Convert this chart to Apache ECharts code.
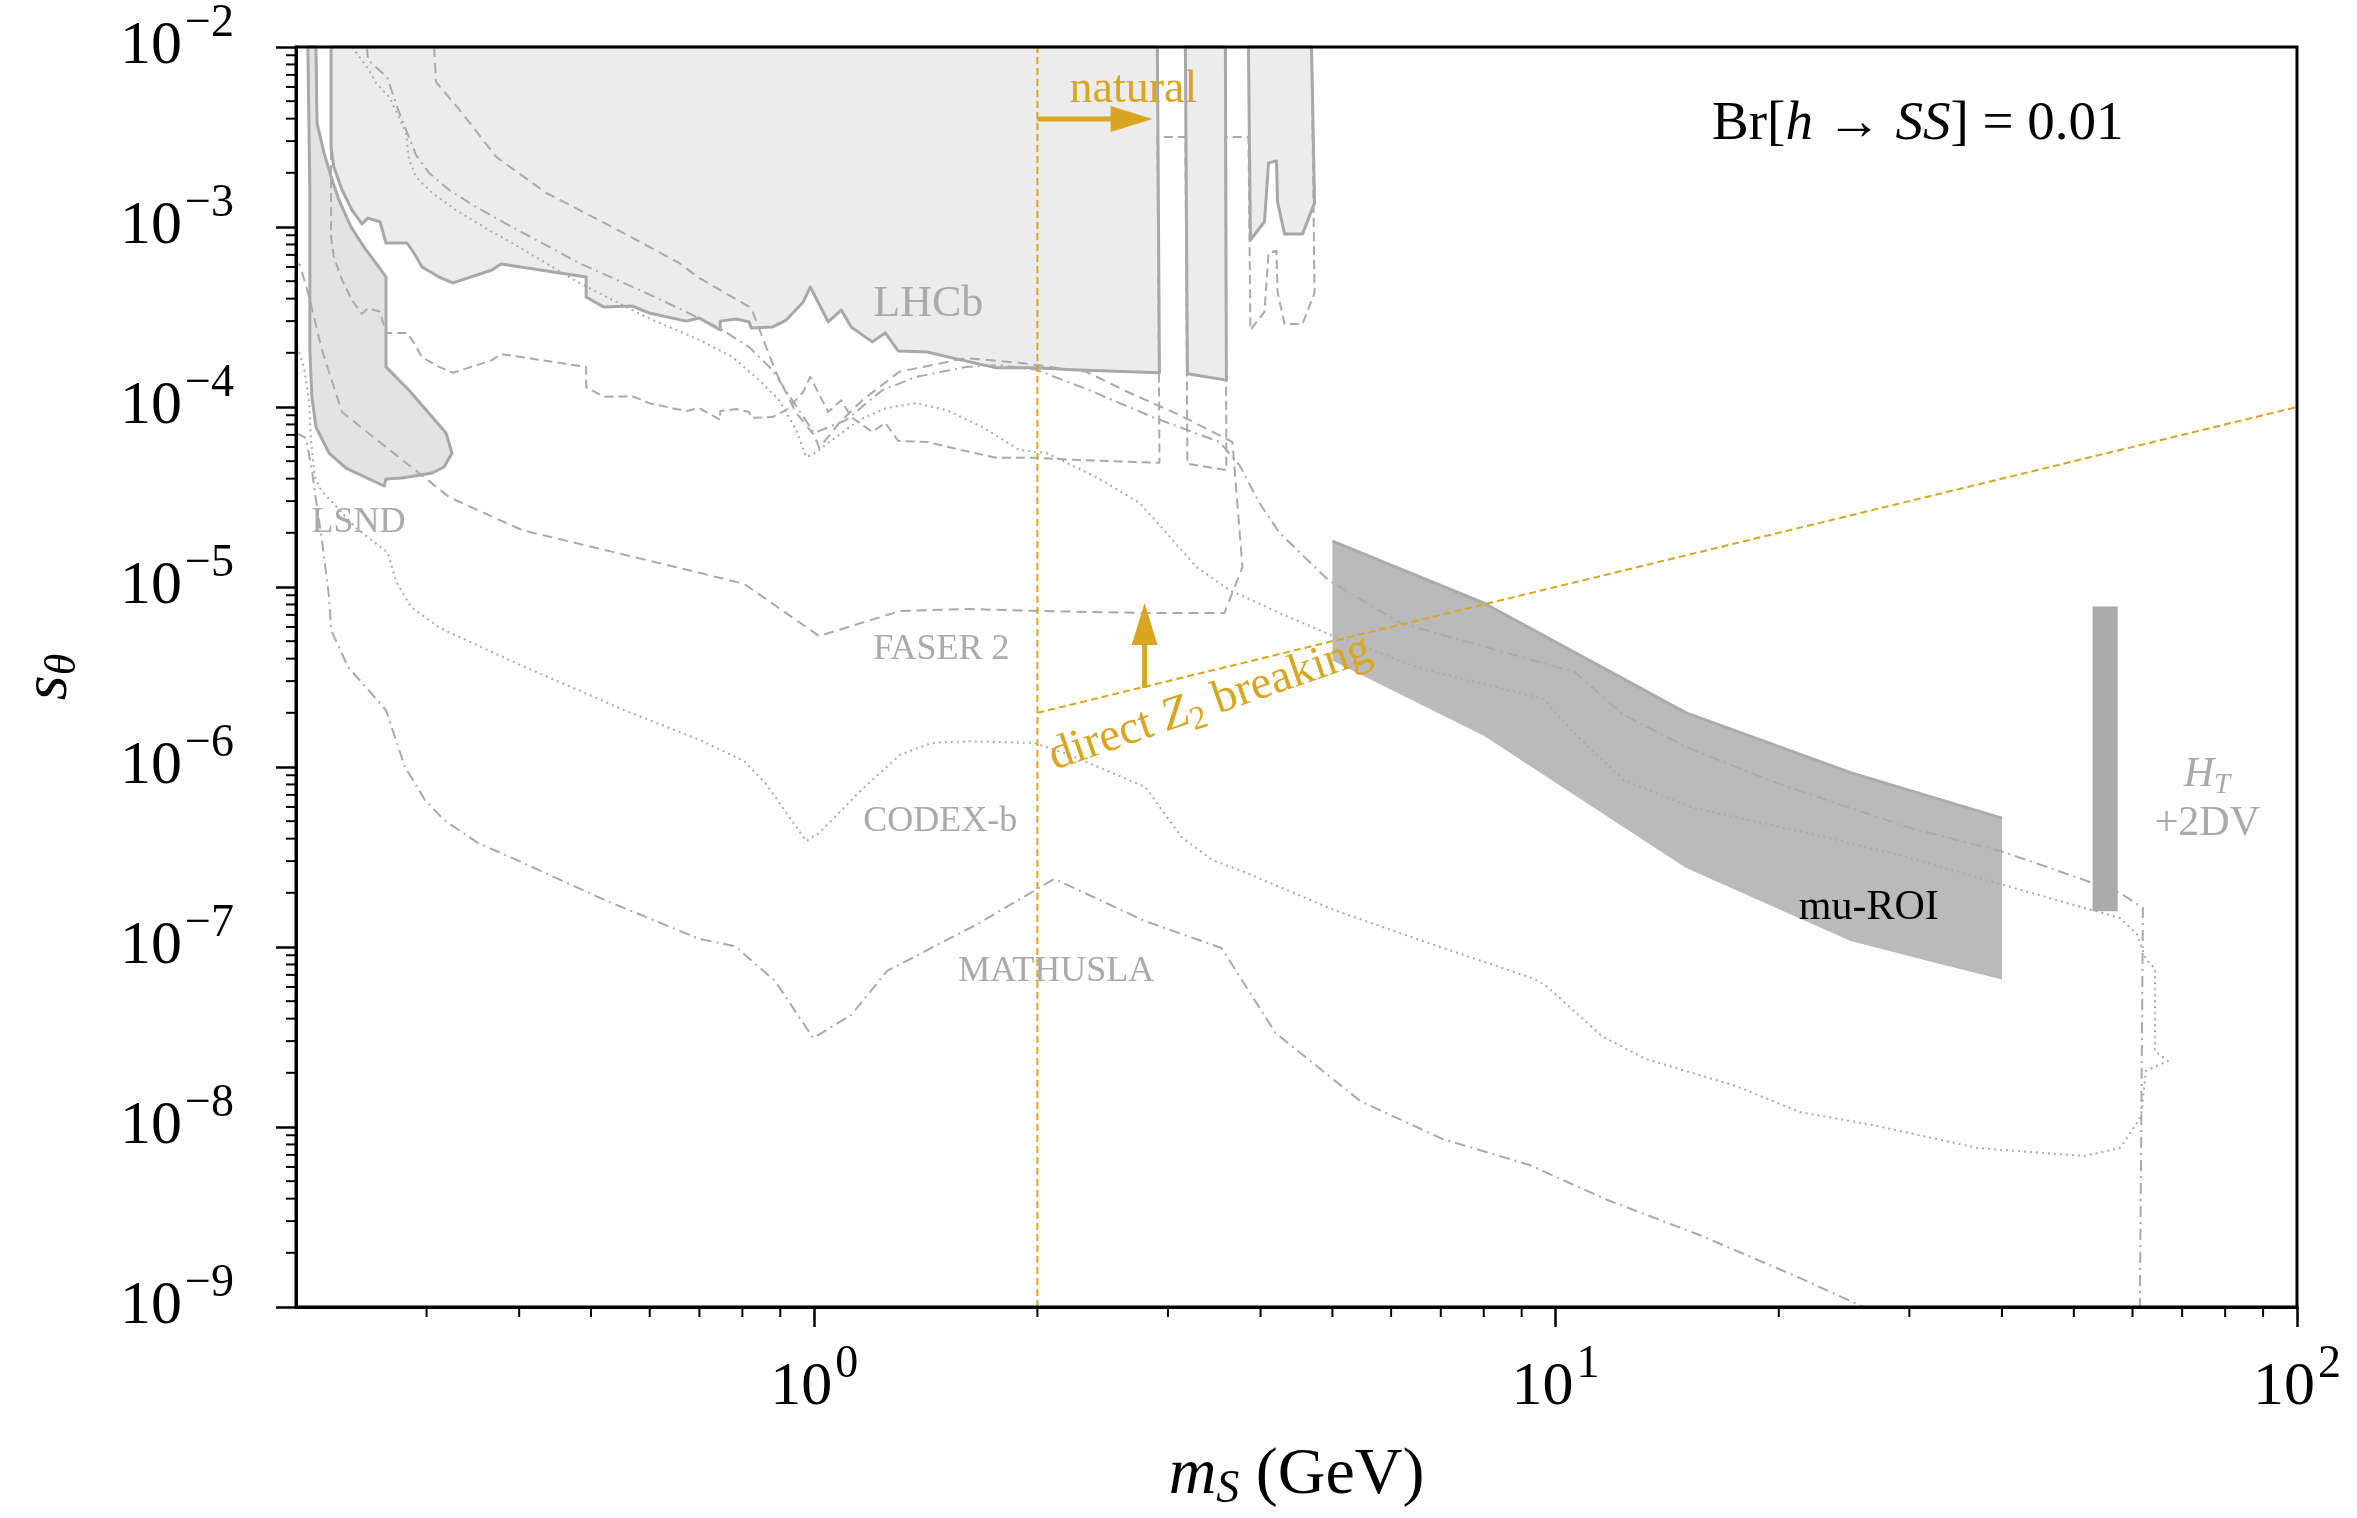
<!DOCTYPE html>
<html>
<head>
<meta charset="utf-8">
<script src="https://cdn.jsdelivr.net/npm/echarts@6/dist/echarts.min.js"></script>
<style>html,body{margin:0;padding:0;background:#fff}#c{width:2357px;height:1518px}</style>
</head>
<body>
<div id="c"></div>
<script>
// ---------------- DATA (mass m_S in GeV, mixing s_theta) ----------------
const lhcbExcluded = [[0.2230,1e-2],[0.2230,2.78e-3],[0.2250,2.15e-3],[0.2307,1.61e-3],[0.2380,1.24e-3],[0.2455,1.04e-3],[0.2501,1.12e-3],[0.2596,1.07e-3],[0.2645,8.15e-4],[0.2823,8.15e-4],[0.2885,7.17e-4],[0.2958,5.99e-4],[0.3119,5.27e-4],[0.3257,4.89e-4],[0.3676,5.77e-4],[0.3781,6.23e-4],[0.4925,5.27e-4],[0.4925,4.08e-4],[0.5206,3.59e-4],[0.5679,3.64e-4],[0.5988,3.33e-4],[0.6721,3.00e-4],[0.6996,3.12e-4],[0.7468,2.68e-4],[0.7468,3.00e-4],[0.7847,3.08e-4],[0.8171,2.97e-4],[0.8222,2.75e-4],[0.8777,2.78e-4],[0.9167,3.04e-4],[0.9664,3.83e-4],[0.9876,4.64e-4],[1.0445,2.97e-4],[1.0876,3.46e-4],[1.1217,2.78e-4],[1.1976,2.30e-4],[1.2467,2.58e-4],[1.2983,2.05e-4],[1.4208,2.02e-4],[1.5546,1.85e-4],[1.7607,1.65e-4],[1.9872,1.65e-4],[2.2295,1.61e-4],[2.922,1.55e-4],[2.903,1e-2]];
const lhcbExcludedB = [[3.167,1e-2],[3.187,1.53e-4],[3.597,1.41e-4],[3.586,1e-2]];
const lhcbExcludedC = [[3.852,1e-2],[3.876,8.47e-4],[4.049,1.07e-3],[4.100,2.27e-3],[4.203,2.33e-3],[4.216,1.38e-3],[4.309,9.15e-4],[4.556,9.15e-4],[4.730,1.36e-3],[4.686,1e-2]];
const lsndExcluded = [[0.2075,1e-2],[0.2128,1e-2],[0.2135,3.78e-3],[0.2182,2.58e-3],[0.2230,1.90e-3],[0.2286,1.41e-3],[0.2373,1.0e-3],[0.2470,7.74e-4],[0.2588,5.99e-4],[0.2645,5.27e-4],[0.2645,1.67e-4],[0.2841,1.24e-4],[0.3187,7.17e-5],[0.3247,5.55e-5],[0.3167,4.64e-5],[0.3051,4.30e-5],[0.2780,4.03e-5],[0.2645,3.98e-5],[0.2629,3.64e-5],[0.2336,4.58e-5],[0.2216,5.55e-5],[0.2128,7.74e-5],[0.2101,1.14e-4],[0.2088,2.07e-4],[0.2088,1.61e-3],[0.2075,1e-2]];
const lhcbProjected = [[0.2230,3.16e-3],[0.2230,8.79e-4],[0.2250,6.80e-4],[0.2307,5.09e-4],[0.2380,3.92e-4],[0.2455,3.29e-4],[0.2501,3.54e-4],[0.2596,3.38e-4],[0.2645,2.58e-4],[0.2823,2.58e-4],[0.2885,2.27e-4],[0.2958,1.89e-4],[0.3119,1.67e-4],[0.3257,1.55e-4],[0.3676,1.82e-4],[0.3781,1.97e-4],[0.4925,1.67e-4],[0.4925,1.29e-4],[0.5206,1.14e-4],[0.5679,1.15e-4],[0.5988,1.05e-4],[0.6721,9.49e-5],[0.6996,9.87e-5],[0.7468,8.47e-5],[0.7468,9.49e-5],[0.7847,9.74e-5],[0.8171,9.39e-5],[0.8222,8.70e-5],[0.8777,8.79e-5],[0.9167,9.61e-5],[0.9664,1.21e-4],[0.9876,1.47e-4],[1.0445,9.39e-5],[1.0876,1.09e-4],[1.1217,8.79e-5],[1.1976,7.27e-5],[1.2467,8.16e-5],[1.2983,6.48e-5],[1.4208,6.39e-5],[1.5546,5.85e-5],[1.7607,5.22e-5],[1.9872,5.22e-5],[2.2295,5.09e-5],[2.922,4.90e-5],[2.903,3.16e-3],[3.167,3.16e-3],[3.187,4.84e-5],[3.597,4.46e-5],[3.586,3.16e-3],[3.852,3.16e-3],[3.876,2.68e-4],[4.049,3.38e-4],[4.100,7.18e-4],[4.203,7.37e-4],[4.216,4.36e-4],[4.309,2.89e-4],[4.556,2.89e-4],[4.730,4.30e-4],[4.686,1e-2]];
const faser2 = [[0.3071,1e-2],[0.3090,6.39e-3],[0.3350,4.30e-3],[0.3724,2.45e-3],[0.4347,1.55e-3],[0.5339,1.0e-3],[0.6575,6.31e-4],[0.6996,5.21e-4],[0.8222,3.55e-4],[0.8886,1.55e-4],[0.9456,9.26e-5],[1.0,6.99e-5],[1.0157,5.92e-5],[1.0808,8.15e-5],[1.1610,1.09e-4],[1.3024,1.57e-4],[1.6036,1.87e-4],[1.891,1.76e-4],[2.328,1.57e-4],[2.661,1.20e-4],[3.110,9.03e-5],[3.665,6.39e-5],[3.781,1.29e-5],[3.575,7.17e-6],[2.797,7.17e-6],[2.0,7.36e-6],[1.609,7.55e-6],[1.306,7.36e-6],[1.0157,5.34e-6],[0.8044,1.04e-5],[0.6996,1.20e-5],[0.4036,2.07e-5],[0.3216,3.16e-5],[0.2930,4.30e-5],[0.2645,5.99e-5],[0.2307,9.38e-5],[0.2168,2.07e-4],[0.2083,4.08e-4],[0.2025,6.15e-4],[0.2000,6.31e-4]];
const codexb = [[0.2380,1e-2],[0.2509,7.45e-3],[0.2564,6.31e-3],[0.2670,5.28e-3],[0.2754,4.08e-3],[0.2815,3.33e-3],[0.2841,2.36e-3],[0.2904,1.90e-3],[0.3051,1.55e-3],[0.3288,1.24e-3],[0.3641,9.62e-4],[0.3914,8.15e-4],[0.4818,4.89e-4],[0.5933,3.16e-4],[0.6996,2.36e-4],[0.7749,1.90e-4],[0.8428,1.41e-4],[0.8970,1.09e-4],[0.9456,7.45e-5],[0.9754,5.28e-5],[0.9938,5.41e-5],[1.0575,6.56e-5],[1.150,8.47e-5],[1.251,9.87e-5],[1.373,1.05e-4],[1.507,9.62e-5],[1.686,7.74e-5],[1.891,5.77e-5],[2.057,5.55e-5],[2.402,4.08e-5],[2.746,2.93e-5],[2.985,2.0e-5],[3.278,1.29e-5],[3.631,9.62e-6],[4.242,7.17e-6],[4.939,5.48e-6],[6.614,3.50e-6],[9.634,2.39e-6],[10.48,1.61e-6],[12.35,8.47e-7],[15.21,5.99e-7],[23.07,4.08e-7],[29.77,3.16e-7],[40.23,2.21e-7],[51.59,1.65e-7],[57.69,1.45e-7],[60.83,1.18e-7],[62.55,8.58e-8],[64.33,7.55e-8],[64.33,2.64e-8],[66.97,2.33e-8],[62.55,2.05e-8],[61.58,1.14e-8],[57.69,7.64e-9],[51.59,6.90e-9],[37.11,7.64e-9],[26.62,1.03e-8],[21.35,1.21e-8],[17.50,1.69e-8],[13.22,2.39e-8],[11.54,3.20e-8],[9.755,5.99e-8],[9.369,6.64e-8],[6.614,1.08e-7],[5.016,1.61e-7],[3.804,2.61e-7],[3.444,3.04e-7],[3.129,4.08e-7],[2.797,7.74e-7],[2.209,1.17e-6],[1.981,1.36e-6],[1.609,1.39e-6],[1.439,1.36e-6],[1.306,1.17e-6],[1.154,7.36e-7],[1.0157,4.30e-7],[0.9754,3.88e-7],[0.8614,8.04e-7],[0.8044,1.08e-6],[0.7018,1.41e-6],[0.5541,2.07e-6],[0.3878,3.93e-6],[0.3128,5.92e-6],[0.2859,7.74e-6],[0.2729,1.07e-5],[0.2661,1.55e-5],[0.2409,2.13e-5],[0.2161,3.46e-5],[0.2121,4.08e-5],[0.2095,6.56e-5],[0.2083,1.09e-4],[0.2050,1.67e-4],[0.2000,2.27e-4]];
const mathuslaUpper = [[0.2493,1e-2],[0.2501,8.47e-3],[0.2653,6.81e-3],[0.2754,4.35e-3],[0.2815,3.46e-3],[0.2904,2.51e-3],[0.3022,2.0e-3],[0.3216,1.61e-3],[0.3499,1.29e-3],[0.3914,1.0e-3],[0.4818,6.31e-4],[0.5933,4.30e-4],[0.6996,3.12e-4],[0.7445,2.75e-4],[0.8171,2.15e-4],[0.8777,1.61e-4],[0.9340,1.09e-4],[1.0,7.17e-5],[1.1045,8.47e-5],[1.2353,1.24e-4],[1.373,1.47e-4],[1.604,1.67e-4],[1.777,1.71e-4],[1.993,1.61e-4],[2.350,1.24e-4],[2.858,8.80e-5],[3.521,6.39e-5],[3.746,4.76e-5],[3.985,2.93e-5],[4.242,2.0e-5],[4.939,1.09e-5],[6.177,6.31e-6],[7.607,4.95e-6],[10.61,3.37e-6],[12.35,1.95e-6],[15.21,1.26e-6],[20.06,8.04e-7],[29.77,4.64e-7],[40.23,3.37e-7],[51.59,2.36e-7],[57.69,2.0e-7],[61.97,1.65e-7],[61.39,1e-9]];
const mathuslaLower = [[0.2000,7.17e-5],[0.2063,6.73e-5],[0.2101,4.47e-5],[0.2135,2.78e-5],[0.2168,1.82e-5],[0.2216,8.80e-6],[0.2230,5.77e-6],[0.2351,3.59e-6],[0.2645,2.07e-6],[0.2805,1.0e-6],[0.2985,6.56e-7],[0.3167,5.08e-7],[0.3521,3.78e-7],[0.3973,3.04e-7],[0.5223,1.82e-7],[0.6996,1.11e-7],[0.7822,1.01e-7],[0.8856,6.47e-8],[0.997,3.12e-8],[1.122,4.19e-8],[1.254,7.36e-8],[1.654,1.33e-7],[2.108,2.39e-7],[2.797,1.39e-7],[3.543,9.87e-8],[4.190,3.33e-8],[5.456,1.39e-8],[7.039,8.58e-9],[9.224,6.15e-9],[11.75,3.93e-9],[15.64,2.51e-9],[21.35,1.45e-9],[26.04,1e-9]];
const muRoiMass = [5, 8, 15, 25, 40];
const muRoiUpper = [1.8e-5, 8.15e-6, 2.0e-6, 9.3e-7, 5.2e-7];
const muRoiLowerMass = [5, 8, 15, 25, 32, 40];
const muRoiLower = [3.9e-6, 1.49e-6, 2.75e-7, 1.08e-7, 8.3e-8, 6.6e-8];
const htDvMass = [53.0, 57.3];
const htDvMixing = [1.58e-7, 7.8e-6];
const naturalLine = [[2, 1e-9], [2, 1e-2]];
const z2Breaking = [[2, 2e-6], [100, 1e-4]];
const arrows = [[2.0, 3.98e-3, 2.86, 3.98e-3], [2.79, 2.75e-6, 2.79, 8.15e-6]];
const textLabels = [
  {key: 'lhcb', text: 'LHCb', mass: 1.425, mix: 3.73e-4},
  {key: 'grey', text: 'LSND', mass: 0.2428, mix: 2.27e-5},
  {key: 'grey', text: 'FASER 2', mass: 1.484, mix: 4.52e-6},
  {key: 'grey', text: 'CODEX-b', mass: 1.479, mix: 4.95e-7},
  {key: 'grey', text: 'MATHUSLA', mass: 2.121, mix: 7.26e-8},
  {key: 'ht', text: '{i|H}{sub|T}', mass: 75.6, mix: 9.03e-7},
  {key: 'ht', text: '{r|+2DV}', mass: 75.7, mix: 4.82e-7},
  {key: 'muroi', text: 'mu-ROI', mass: 26.45, mix: 1.65e-7},
  {key: 'br', text: '{r|Br[}{i|h}{r| → }{i|SS}{r|] = 0.01}', mass: 30.8, mix: 3.69e-3},
  {key: 'natural', text: 'natural', mass: 2.695, mix: 5.77e-3},
  {key: 'z2', text: '{r|direct }{i|Z}{sub|2}{r| breaking}', mass: 3.42, mix: 2.26e-6}
];
const xMajorTicks = [1, 10, 100];
const xMinorTicks = [0.3,0.4,0.5,0.6,0.7,0.8,0.9,2,3,4,5,6,7,8,9,20,30,40,50,60,70,80,90];
const yMinorMantissa = [2,3,4,5,6,7,8,9];
const yDecades = [1e-9,1e-8,1e-7,1e-6,1e-5,1e-4,1e-3];

// ---------------- STYLE ----------------
const GREY = '#aaaaaa';
const ORANGE = '#DAA520';
const SERIF = "'Liberation Serif','DejaVu Serif',serif";
const labelStyles = {
  lhcb:   {fontSize: 44, color: GREY},
  grey:   {fontSize: 36, color: GREY},
  ht:     {fontSize: 42, color: GREY},
  muroi:  {fontSize: 42, color: '#000'},
  br:     {fontSize: 55, color: '#000'},
  natural:{fontSize: 46, color: ORANGE},
  z2:     {fontSize: 47, color: ORANGE, rotate: 19}
};

const yMinorTicks = [];
yDecades.forEach(d => yMinorMantissa.forEach(m => yMinorTicks.push(+(m * d).toPrecision(3))));

function expLabel(v) {
  const e = Math.round(Math.log10(v));
  return '{b|10}{s|' + (e < 0 ? '\u2212' + (-e) : e) + '}';
}
const tickRich = {
  b: {fontSize: 62, fontFamily: SERIF, color: '#000', verticalAlign: 'middle', lineHeight: 62},
  s: {fontSize: 46, fontFamily: SERIF, color: '#000', verticalAlign: 'middle', lineHeight: 46, padding: [0, 0, 46, 3]}
};

function polygonSeries(pts, fill, stroke, lw, z) {
  return {
    type: 'custom', z, silent: true, animation: false, data: pts,
    renderItem(params, api) {
      if (params.dataIndex !== 0) return null;
      return {type: 'polygon', shape: {points: pts.map(p => api.coord(p))},
              style: {fill, stroke: stroke || null, lineWidth: lw || 0, lineJoin: 'round'}};
    }
  };
}
function lineSeries(pts, dash, z, color, width) {
  return {
    type: 'line', data: pts, showSymbol: false, symbol: 'none', silent: true, z, animation: false,
    lineStyle: {color: color || GREY, width: width || 2, type: dash, cap: 'butt', join: 'round'}
  };
}

const muRoiPoly = muRoiMass.map((m, i) => [m, muRoiUpper[i]])
  .concat(muRoiLowerMass.map((m, i) => [m, muRoiLower[i]]).reverse());
const htPoly = [[htDvMass[0], htDvMixing[0]], [htDvMass[1], htDvMixing[0]], [htDvMass[1], htDvMixing[1]], [htDvMass[0], htDvMixing[1]]];

const series = [
  polygonSeries(lhcbExcluded, '#ececec', '#a8a8a8', 3, 1),
  polygonSeries(lhcbExcludedB, '#ececec', '#a8a8a8', 3, 1),
  polygonSeries(lhcbExcludedC, '#ececec', '#a8a8a8', 3, 1),
  polygonSeries(lsndExcluded, '#e3e3e3', '#a8a8a8', 3, 1),
  polygonSeries(muRoiPoly, '#bababa', null, 0, 2),
  lineSeries(muRoiMass.map((m, i) => [m, muRoiUpper[i]]), 'solid', 2, '#ababab', 3),
  lineSeries(lhcbProjected, [9, 5], 3),
  lineSeries(faser2, [10, 6], 3),
  lineSeries(codexb, [2, 4], 3),
  lineSeries(mathuslaUpper, [11, 5, 2, 5], 3),
  lineSeries(mathuslaLower, [11, 5, 2, 5], 3),
  polygonSeries(htPoly, '#aaaaaa', null, 0, 4),
  lineSeries(naturalLine, [7, 4], 5, ORANGE, 2),
  lineSeries(z2Breaking, [7, 4], 5, ORANGE, 2),
  { // arrows
    type: 'custom', z: 6, silent: true, animation: false, clip: false,
    data: arrows.map(a => [a[0], a[1]]),
    renderItem(params, api) {
      const a = arrows[params.dataIndex];
      const p0 = api.coord([a[0], a[1]]), p1 = api.coord([a[2], a[3]]);
      const dx = p1[0] - p0[0], dy = p1[1] - p0[1], len = Math.hypot(dx, dy);
      const ux = dx / len, uy = dy / len, hl = 42, hw = 13;
      const bx = p1[0] - ux * hl, by = p1[1] - uy * hl;
      return {type: 'group', children: [
        {type: 'line', shape: {x1: p0[0], y1: p0[1], x2: bx + ux * 2, y2: by + uy * 2}, style: {stroke: ORANGE, lineWidth: 5}},
        {type: 'polygon', shape: {points: [[p1[0], p1[1]], [bx - uy * hw, by + ux * hw], [bx + uy * hw, by - ux * hw]]}, style: {fill: ORANGE}}
      ]};
    }
  },
  { // text labels
    type: 'custom', z: 7, silent: true, animation: false, clip: false,
    data: textLabels.map(t => [t.mass, t.mix]),
    renderItem(params, api) {
      const t = textLabels[params.dataIndex];
      const st = labelStyles[t.key];
      const p = api.coord([t.mass, t.mix]);
      const fs = st.fontSize;
      return {
        type: 'text', x: p[0], y: p[1], rotation: (st.rotate || 0) * Math.PI / 180,
        style: {
          text: t.text, fill: st.color, fontSize: fs, fontFamily: SERIF,
          align: 'center', verticalAlign: 'middle',
          rich: {
            r: {fontSize: fs, fontFamily: SERIF, fill: st.color, verticalAlign: 'middle', lineHeight: fs},
            i: {fontSize: fs, fontFamily: SERIF, fontStyle: 'italic', fill: st.color, verticalAlign: 'middle', lineHeight: fs},
            sub: {fontSize: Math.round(fs * 0.7), fontFamily: SERIF, fontStyle: (t.key === 'ht' ? 'italic' : 'normal'), fill: st.color, verticalAlign: 'middle', lineHeight: Math.round(fs * 0.7), padding: [Math.round(fs * 0.5), 0, 0, 0]}
          }
        }
      };
    }
  },
  { // x minor ticks
    type: 'custom', z: 10, silent: true, animation: false, clip: false,
    data: xMinorTicks.map(v => [v, 1e-9]),
    renderItem(params, api) {
      const p = api.coord([api.value(0), 1e-9]);
      return {type: 'line', shape: {x1: p[0], y1: p[1], x2: p[0], y2: p[1] + 10}, style: {stroke: '#000', lineWidth: 2}};
    }
  },
  { // y minor ticks
    type: 'custom', z: 10, silent: true, animation: false, clip: false,
    data: yMinorTicks.map(v => [0.2, v]),
    renderItem(params, api) {
      const p = api.coord([0.2, api.value(1)]);
      return {type: 'line', shape: {x1: p[0] - 10, y1: p[1], x2: p[0], y2: p[1]}, style: {stroke: '#000', lineWidth: 2}};
    }
  }
];

const chart = echarts.init(document.getElementById('c'), null, {renderer: 'canvas', width: 2357, height: 1518});
chart.setOption({
  animation: false,
  backgroundColor: '#fff',
  textStyle: {fontFamily: SERIF},
  grid: {left: 296, top: 47, width: 2001, height: 1260, containLabel: false, outerBoundsMode: 'none',
         show: true, borderColor: '#000', borderWidth: 3, backgroundColor: 'transparent', z: 12},
  xAxis: {
    type: 'log', logBase: 10, min: 0.2, max: 100,
    name: '{i|m}{sub|S}{r| (GeV)}', nameLocation: 'middle', nameGap: 124,
    nameTextStyle: {rich: {
      i: {fontSize: 66, fontFamily: SERIF, fontStyle: 'italic', color: '#000', verticalAlign: 'middle', lineHeight: 66},
      sub: {fontSize: 46, fontFamily: SERIF, fontStyle: 'italic', color: '#000', verticalAlign: 'middle', lineHeight: 46, padding: [28, 0, 0, 0]},
      r: {fontSize: 66, fontFamily: SERIF, color: '#000', verticalAlign: 'middle', lineHeight: 66}
    }},
    axisLine: {show: true, lineStyle: {color: '#000', width: 3}},
    axisTick: {show: true, inside: false, length: 20, lineStyle: {color: '#000', width: 2.5}},
    minorTick: {show: false},
    splitLine: {show: false},
    axisLabel: {show: true, margin: 50, showMinLabel: false, formatter: expLabel, rich: tickRich},
    z: 12
  },
  yAxis: {
    type: 'log', logBase: 10, min: 1e-9, max: 1e-2,
    name: '{i|s}{sub|θ}', nameLocation: 'middle', nameGap: 215, nameRotate: 90,
    nameTextStyle: {rich: {
      i: {fontSize: 64, fontFamily: SERIF, fontStyle: 'italic', color: '#000', verticalAlign: 'middle', lineHeight: 64},
      sub: {fontSize: 44, fontFamily: SERIF, fontStyle: 'italic', color: '#000', verticalAlign: 'middle', lineHeight: 44, padding: [28, 0, 0, 0]}
    }},
    axisLine: {show: true, lineStyle: {color: '#000', width: 3}},
    axisTick: {show: true, inside: false, length: 20, lineStyle: {color: '#000', width: 2.5}},
    minorTick: {show: false},
    splitLine: {show: false},
    axisLabel: {show: true, margin: 62, formatter: expLabel, rich: tickRich},
    z: 12
  },
  series
});
</script>
</body>
</html>
